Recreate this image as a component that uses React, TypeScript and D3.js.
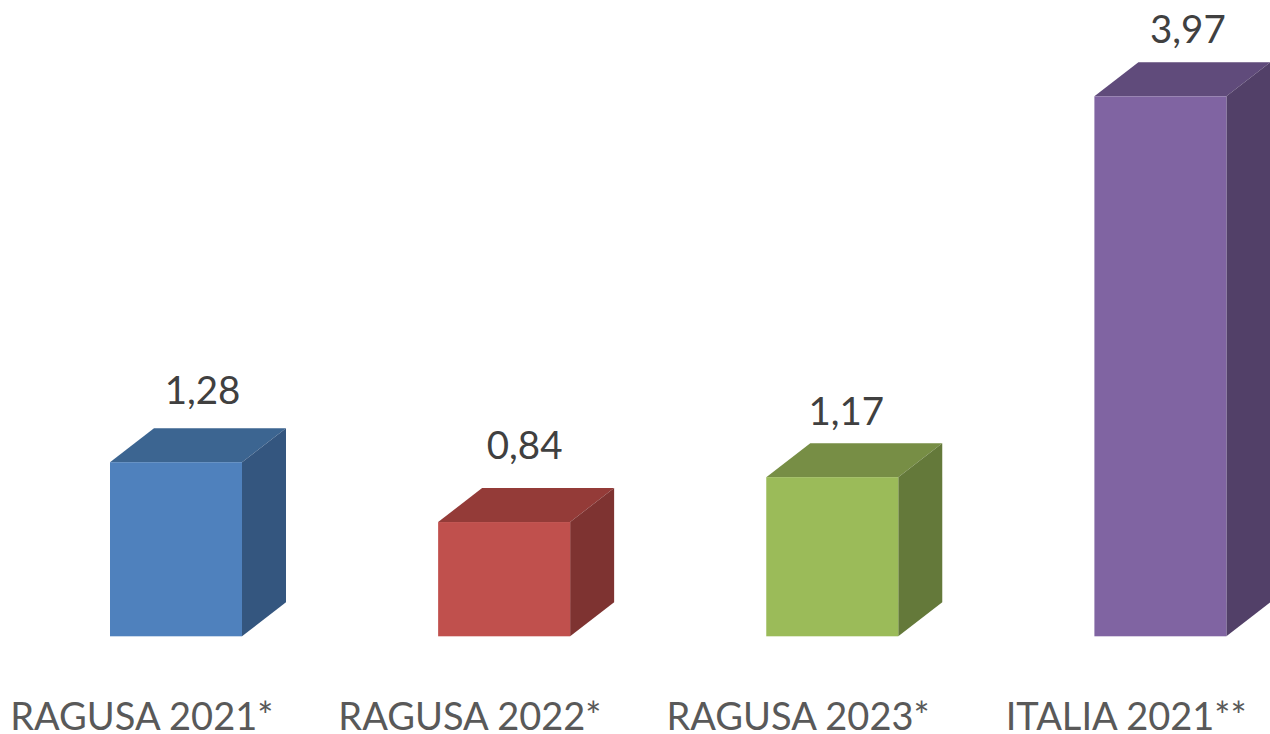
import React from "react";
import * as d3 from "d3";

const categories = ["RAGUSA 2021*", "RAGUSA 2022*", "RAGUSA 2023*", "ITALIA 2021**"];
const values = [1.28, 0.84, 1.17, 3.97];
const valueLabels = ["1,28", "0,84", "1,17", "3,97"];
const frontColors = ["#4f81bd", "#c0504d", "#9bbb59", "#8064a2"];
const topColors = ["#3c6591", "#943b38", "#778e45", "#604b7b"];
const sideColors = ["#34567f", "#7e3331", "#64793a", "#524068"];
// hand-placed data labels in the reference: offset from the bar's front centre / top
const labelDx = [26.5, 20.5, 14, 27.5];
const labelDy = [58.5, 63, 52.5, 53];

const W = 1270;
const H = 734;
const BASE = 636.3;
const DX = 44;
const DY = 34;
const BW = 132;
const FONT = "Lato, 'Open Sans', sans-serif";

const x = d3.scaleLinear().domain([0, 3]).range([110, 1094.4]);
const y = d3.scaleLinear().domain([0, 3.97]).range([BASE, 96.3]);
const path = d3.line();

export default function App() {
  return (
    <svg
      width={W}
      height={H}
      viewBox={`0 0 ${W} ${H}`}
      style={{ position: "fixed", left: 0, top: 0, background: "#fff", display: "block" }}
    >
      {values.map((v, i) => {
        const x0 = x(i);
        const x1 = x0 + BW;
        const t = y(v);
        return (
          <g key={categories[i]}>
            <path
              d={path([[x0, t], [x0 + DX, t - DY], [x1 + DX, t - DY], [x1, t]]) + "Z"}
              fill={topColors[i]}
            />
            <path
              d={path([[x1, t], [x1 + DX, t - DY], [x1 + DX, BASE - DY], [x1, BASE]]) + "Z"}
              fill={sideColors[i]}
            />
            <rect x={x0} y={t} width={BW} height={BASE - t} fill={frontColors[i]} />
            <text
              x={x0 + BW / 2 + labelDx[i]}
              y={t - labelDy[i]}
              textAnchor="middle"
              fontFamily={FONT}
              fontSize={38.5}
              fill="#404040"
            >
              {valueLabels[i]}
            </text>
            <text
              x={x0 + BW / 2 - 34.2}
              y={730.3}
              textAnchor="middle"
              fontFamily={FONT}
              fontSize={38}
              fill="#595959"
            >
              {categories[i]}
            </text>
          </g>
        );
      })}
    </svg>
  );
}
